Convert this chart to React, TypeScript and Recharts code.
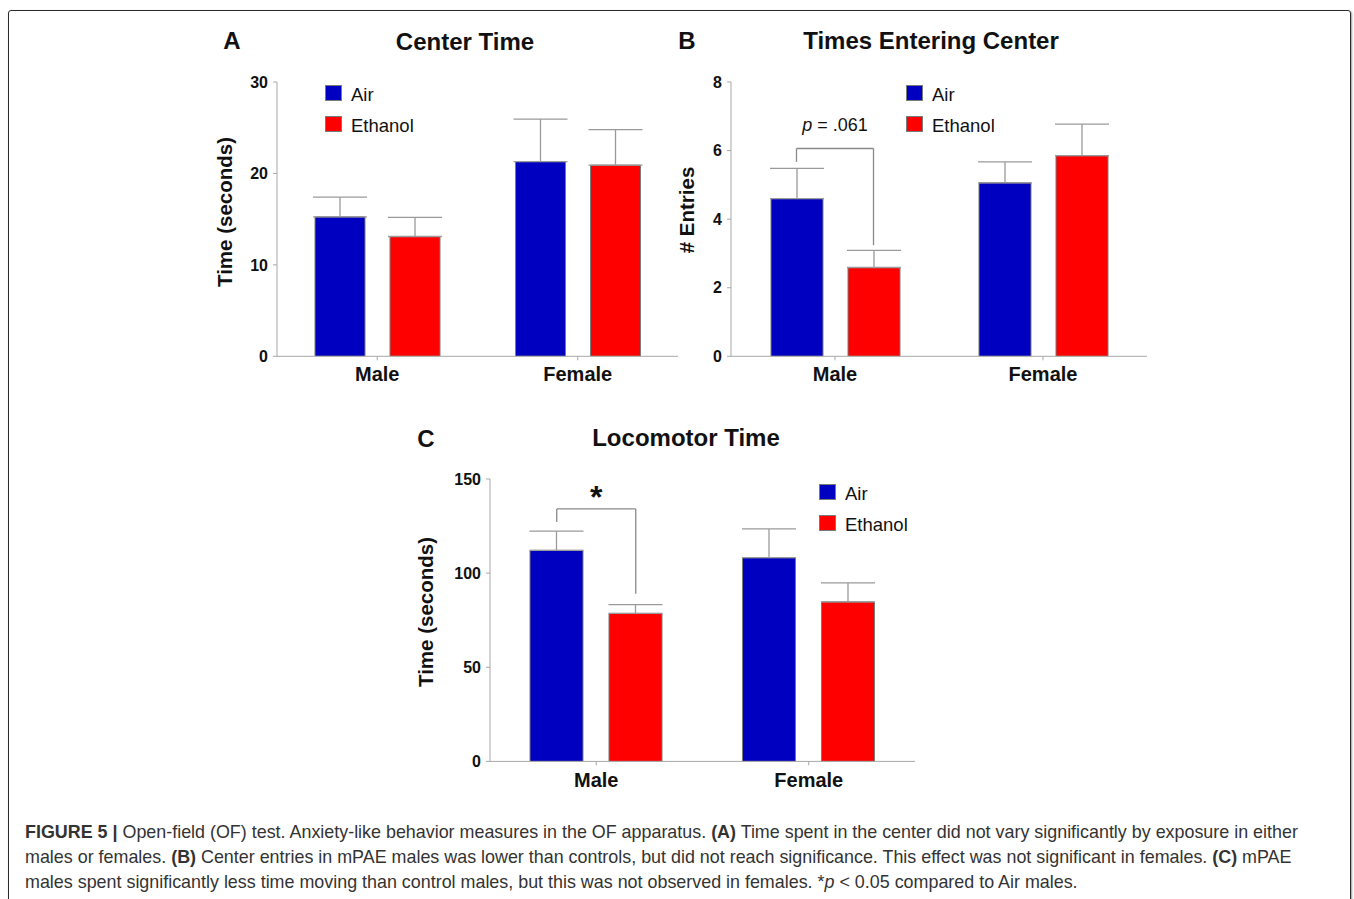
import React from 'react';
import { BarChart, Bar, XAxis, YAxis, ErrorBar, ReferenceLine, Legend } from 'recharts';

const groups = ['Male', 'Female'];

// A - Center Time (seconds)
const centerTimeAir = [15.25, 21.3];
const centerTimeEthanol = [13.1, 20.9];
const centerTimeAirSem = [2.15, 4.65];
const centerTimeEthanolSem = [2.1, 3.9];
const centerTimeTicks = [0, 10, 20, 30];

// B - Times Entering Center (# entries)
const entriesAir = [4.6, 5.06];
const entriesEthanol = [2.59, 5.85];
const entriesAirSem = [0.88, 0.61];
const entriesEthanolSem = [0.5, 0.92];
const entriesTicks = [0, 2, 4, 6, 8];
// bracket: left end, top, right end
const entriesBracket = [5.67, 6.06, 3.24];

// C - Locomotor Time (seconds)
const locoAir = [112.1, 108.2];
const locoEthanol = [78.6, 84.7];
const locoAirSem = [10.2, 15.3];
const locoEthanolSem = [4.7, 10.1];
const locoTicks = [0, 50, 100, 150];
const locoBracket = [127.1, 134.1, 89.1];

const AIR = '#0000C0';
const ETHANOL = '#FF0000';
const AXIS = '#a8a8a8';
const FONT = '"Liberation Sans", Arial, Helvetica, sans-serif';

const renderLegend = (props: any) => (
  <div style={{ fontFamily: FONT }}>
    {(props.payload || []).map((e: any) => (
      <div key={e.value} style={{ display: 'flex', alignItems: 'center', height: 31 }}>
        <span
          style={{
            display: 'inline-block',
            width: 17,
            height: 16,
            background: e.color,
            border: '1px solid #7a7a7a',
            boxSizing: 'border-box',
            marginRight: 9,
          }}
        />
        <span style={{ fontSize: 18.5, color: '#111', position: 'relative', top: 2 }}>{e.value}</span>
      </div>
    ))}
  </div>
);

interface PanelProps {
  plot: { left: number; top: number; right: number; bottom: number };
  ticks: number[];
  air: number[];
  ethanol: number[];
  airSem: number[];
  ethanolSem: number[];
  barSize: number;
  barGap: number;
  legendAt: { x: number; y: number };
  bracket?: number[];
  bracketLabel?: 'p' | 'star';
}

const Panel: React.FC<PanelProps> = ({
  plot, ticks, air, ethanol, airSem, ethanolSem, barSize, barGap, legendAt, bracket, bracketLabel,
}) => {
  const x0 = plot.left - 80;
  const y0 = plot.top - 30;
  const width = plot.right - x0 + 10;
  const height = plot.bottom - y0 + 45;

  const data = groups.map((g, i) => ({
    group: g,
    air: air[i],
    ethanol: ethanol[i],
    airErr: [0, airSem[i]],
    ethanolErr: [0, ethanolSem[i]],
  }));

  // bar centres of the first group on a hidden 0..1 axis spanning both groups
  const band = (plot.right - plot.left) / 2;
  const side = (band - 2 * barSize - barGap) / 2;
  const airX = (side + barSize / 2) / band / 2;
  const ethX = (side + barSize * 1.5 + barGap) / band / 2;

  const tickStyle = { fontSize: 16, fontWeight: 'bold', fill: '#111', fontFamily: FONT };

  const bracketText = (p: any) => {
    const vb = p.viewBox || {};
    const cx = vb.x + (vb.width || 0) / 2;
    if (bracketLabel === 'p') {
      return (
        <text x={cx} y={vb.y - 18} textAnchor="middle" fontSize={18} fill="#111" fontFamily={FONT}>
          <tspan fontStyle="italic">p</tspan> = .061
        </text>
      );
    }
    return (
      <text x={cx} y={vb.y - 1} textAnchor="middle" fontSize={32} fontWeight="bold" fill="#111" fontFamily={FONT}>
        *
      </text>
    );
  };

  return (
    <div style={{ position: 'absolute', left: x0, top: y0 }}>
      <BarChart
        width={width}
        height={height}
        data={data}
        margin={{ top: 30, right: 10, left: 30, bottom: 15 }}
        barSize={barSize}
        barGap={barGap}
      >
        <XAxis
          xAxisId="cat"
          dataKey="group"
          height={30}
          stroke={AXIS}
          tickLine={{ stroke: AXIS }}
          tickSize={4}
          tickMargin={7}
          tick={{ ...tickStyle, fontSize: 20 }}
        />
        <XAxis xAxisId="num" type="number" domain={[0, 1]} allowDataOverflow hide />
        <YAxis
          width={50}
          domain={[ticks[0], ticks[ticks.length - 1]]}
          ticks={ticks}
          allowDataOverflow
          stroke={AXIS}
          tickLine={{ stroke: AXIS }}
          tickSize={4}
          tickMargin={5}
          tick={tickStyle}
        />
        <Legend
          layout="vertical"
          align="center"
          verticalAlign="middle"
          content={renderLegend}
          wrapperStyle={{ top: legendAt.y - 7.5 - y0, left: legendAt.x - x0, width: 'auto' }}
        />
        <Bar xAxisId="cat" dataKey="air" name="Air" fill={AIR} stroke="#7a7a7a" strokeWidth={1} isAnimationActive={false}>
          <ErrorBar dataKey="airErr" direction="y" width={27} stroke="#9a9a9a" strokeWidth={1.3} />
        </Bar>
        <Bar xAxisId="cat" dataKey="ethanol" name="Ethanol" fill={ETHANOL} stroke="#7a7a7a" strokeWidth={1} isAnimationActive={false}>
          <ErrorBar dataKey="ethanolErr" direction="y" width={27} stroke="#9a9a9a" strokeWidth={1.3} />
        </Bar>
        {bracket && (
          <ReferenceLine
            xAxisId="num"
            segment={[{ x: airX, y: bracket[0] }, { x: airX, y: bracket[1] }]}
            stroke="#8a8a8a"
            strokeWidth={1.3}
          />
        )}
        {bracket && (
          <ReferenceLine
            xAxisId="num"
            segment={[{ x: airX, y: bracket[1] }, { x: ethX, y: bracket[1] }]}
            stroke="#8a8a8a"
            strokeWidth={1.3}
            label={bracketText}
          />
        )}
        {bracket && (
          <ReferenceLine
            xAxisId="num"
            segment={[{ x: ethX, y: bracket[1] }, { x: ethX, y: bracket[2] }]}
            stroke="#8a8a8a"
            strokeWidth={1.3}
          />
        )}
      </BarChart>
    </div>
  );
};

const Title = ({ x, y, text, size = 24 }: { x: number; y: number; text: string; size?: number }) => (
  <div
    style={{
      position: 'absolute', left: x, top: y, transform: 'translate(-50%, -50%)',
      fontSize: size, fontWeight: 'bold', whiteSpace: 'nowrap', color: '#111',
    }}
  >
    {text}
  </div>
);

const VLabel = ({ x, y, text }: { x: number; y: number; text: string }) => (
  <div
    style={{
      position: 'absolute', left: x, top: y, transform: 'translate(-50%, -50%) rotate(-90deg)',
      fontSize: 20.5, fontWeight: 'bold', whiteSpace: 'nowrap', color: '#111',
    }}
  >
    {text}
  </div>
);

const App: React.FC = () => {
  return (
    <div
      style={{
        position: 'absolute', left: 0, top: 0, width: 1354, height: 899, overflow: 'hidden',
        background: '#fff', fontFamily: FONT,
      }}
    >
      <div
        style={{
          position: 'absolute', left: 8, top: 10, width: 1341, height: 1000,
          border: '1.5px solid #2b2b2b', borderRadius: 3, boxShadow: '1px 1px 2px #999',
        }}
      />

      <Title x={232} y={41} text="A" />
      <Title x={465} y={42} text="Center Time" />
      <VLabel x={225} y={212} text="Time (seconds)" />
      <Panel
        plot={{ left: 277, top: 81.7, right: 678, bottom: 356 }}
        ticks={centerTimeTicks}
        air={centerTimeAir}
        ethanol={centerTimeEthanol}
        airSem={centerTimeAirSem}
        ethanolSem={centerTimeEthanolSem}
        barSize={50}
        barGap={25}
        legendAt={{ x: 325, y: 85 }}
      />

      <Title x={687} y={41} text="B" />
      <Title x={931} y={41} text="Times Entering Center" />
      <VLabel x={687} y={210} text="# Entries" />
      <Panel
        plot={{ left: 731, top: 81.7, right: 1147, bottom: 356 }}
        ticks={entriesTicks}
        air={entriesAir}
        ethanol={entriesEthanol}
        airSem={entriesAirSem}
        ethanolSem={entriesEthanolSem}
        barSize={52}
        barGap={25}
        legendAt={{ x: 906, y: 85 }}
        bracket={entriesBracket}
        bracketLabel="p"
      />

      <Title x={426} y={439} text="C" />
      <Title x={686} y={438} text="Locomotor Time" />
      <VLabel x={426} y={612} text="Time (seconds)" />
      <Panel
        plot={{ left: 490, top: 479.3, right: 915, bottom: 761.7 }}
        ticks={locoTicks}
        air={locoAir}
        ethanol={locoEthanol}
        airSem={locoAirSem}
        ethanolSem={locoEthanolSem}
        barSize={53}
        barGap={26}
        legendAt={{ x: 819, y: 484 }}
        bracket={locoBracket}
        bracketLabel="star"
      />

      <div
        style={{
          position: 'absolute', left: 25, top: 819.5, fontSize: 17.9, lineHeight: '25px',
          color: '#333', whiteSpace: 'nowrap',
        }}
      >
        <b>FIGURE 5 |</b> Open-field (OF) test. Anxiety-like behavior measures in the OF apparatus. <b>(A)</b> Time
        spent in the center did not vary significantly by exposure in either
        <br />
        males or females. <b>(B)</b> Center entries in mPAE males was lower than controls, but did not reach
        significance. This effect was not significant in females. <b>(C)</b> mPAE
        <br />
        males spent significantly less time moving than control males, but this was not observed in females. *
        <i>p</i> &lt; 0.05 compared to Air males.
      </div>
    </div>
  );
};

export default App;
